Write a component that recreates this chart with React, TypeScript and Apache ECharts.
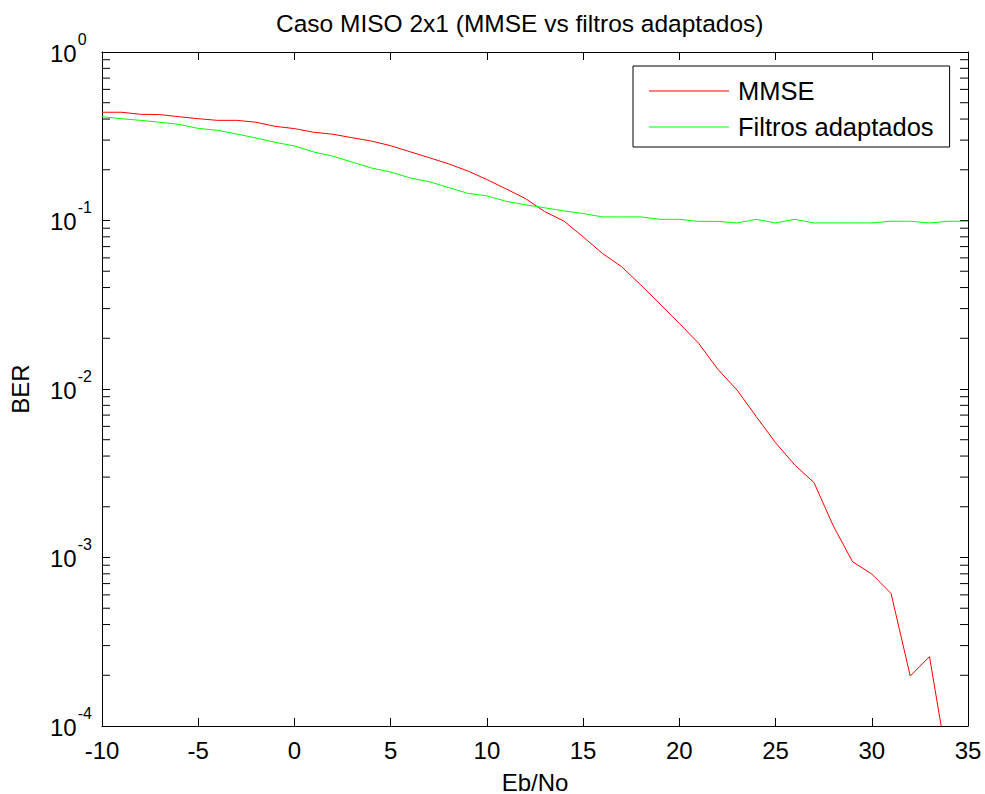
import React, { useEffect, useRef } from "react";
import * as echarts from "echarts";

const X_MIN = -10;
const X_MAX = 35;
const Y_MIN = 1e-4;
const Y_MAX = 1;

const ebNo = [
  -10, -9, -8, -7, -6, -5, -4, -3, -2, -1, 0, 1, 2, 3, 4, 5, 6, 7, 8, 9, 10, 11, 12,
  13, 14, 15, 16, 17, 18, 19, 20, 21, 22, 23, 24, 25, 26, 27, 28, 29, 30, 31, 32, 33, 34, 35,
];

const berMMSE = [
  0.439, 0.439, 0.427, 0.425, 0.413, 0.402, 0.393, 0.393, 0.383, 0.362, 0.351, 0.334,
  0.325, 0.31, 0.296, 0.278, 0.256, 0.236, 0.217, 0.197, 0.175, 0.154, 0.135, 0.113,
  0.0993, 0.08, 0.0638, 0.0532, 0.0414, 0.0319, 0.0245, 0.0187, 0.0131, 0.00986,
  0.00685, 0.0048, 0.00354, 0.00278, 0.00154, 0.000944, 0.000798, 0.000612, 0.000198,
  0.000258, 0.000054, null,
];

const berMatched = [
  0.413, 0.402, 0.393, 0.383, 0.372, 0.352, 0.343, 0.326, 0.309, 0.291, 0.277, 0.255,
  0.241, 0.222, 0.205, 0.194, 0.179, 0.17, 0.157, 0.145, 0.14, 0.13, 0.124, 0.119,
  0.114, 0.11, 0.105, 0.105, 0.105, 0.1016, 0.1016, 0.0988, 0.0988, 0.0967, 0.1016,
  0.0967, 0.1016, 0.0967, 0.0967, 0.0967, 0.0967, 0.099, 0.099, 0.0967, 0.099, 0.099,
];

const seriesNames = ["MMSE", "Filtros adaptados"];
const xTickInterval = 5;

// minor tick values of the log axis (2..9 per decade)
const minorTickValues = [
  2e-4, 3e-4, 4e-4, 5e-4, 6e-4, 7e-4, 8e-4, 9e-4,
  2e-3, 3e-3, 4e-3, 5e-3, 6e-3, 7e-3, 8e-3, 9e-3,
  2e-2, 3e-2, 4e-2, 5e-2, 6e-2, 7e-2, 8e-2, 9e-2,
  0.2, 0.3, 0.4, 0.5, 0.6, 0.7, 0.8, 0.9,
];

const FONT = "Liberation Sans, Arial, sans-serif";

export default function App() {
  const ref = useRef<HTMLDivElement>(null);

  useEffect(() => {
    document.body.style.margin = "0";
    if (!ref.current) return;
    const chart = echarts.init(ref.current, undefined, { renderer: "svg" });

    const yLabelFormatter = (v: number) => {
      const e = Math.round(Math.log10(v));
      return "{b|10}{s|" + e + "}";
    };

    const tickLen = 8;

    chart.setOption({
      animation: false,
      backgroundColor: "#ffffff",
      textStyle: { fontFamily: FONT, color: "#000" },
      title: {
        text: "Caso MISO 2x1 (MMSE vs filtros adaptados)",
        left: 276,
        top: 11,
        padding: 0,
        textStyle: { fontFamily: FONT, fontSize: 24.5, fontWeight: "normal", color: "#000" },
      },
      legend: {
        data: seriesNames,
        orient: "vertical",
        left: 633,
        top: 66,
        padding: [12, 16, 7, 16],
        itemGap: 10,
        itemWidth: 80,
        itemHeight: 1.2,
        icon: "rect",
        borderColor: "#000",
        borderWidth: 1,
        backgroundColor: "#fff",
        textStyle: { fontFamily: FONT, fontSize: 25.5, color: "#000", lineHeight: 26, padding: [0, 0, 0, 4] },
      },
      grid: {
        left: 102,
        right: 17,
        top: 52,
        bottom: 68,
        containLabel: false,
        outerBoundsMode: "none",
      },
      xAxis: [
        {
          type: "value",
          min: X_MIN,
          max: X_MAX,
          interval: xTickInterval,
          position: "bottom",
          name: "Eb/No",
          nameLocation: "middle",
          nameGap: 46,
          nameTextStyle: { fontFamily: FONT, fontSize: 24, lineHeight: 20, color: "#000" },
          axisLine: { show: true, onZero: false, lineStyle: { color: "#000", width: 1 } },
          axisTick: { show: true, inside: true, length: tickLen, lineStyle: { color: "#000" } },
          axisLabel: { fontFamily: FONT, fontSize: 24, color: "#000", margin: 12 },
          splitLine: { show: false },
        },
        {
          type: "value",
          min: X_MIN,
          max: X_MAX,
          interval: xTickInterval,
          position: "top",
          axisLine: { show: true, onZero: false, lineStyle: { color: "#000", width: 1 } },
          axisTick: { show: true, inside: true, length: tickLen, lineStyle: { color: "#000" } },
          axisLabel: { show: false },
          splitLine: { show: false },
        },
      ],
      yAxis: [
        {
          type: "log",
          logBase: 10,
          min: Y_MIN,
          max: Y_MAX,
          position: "left",
          name: "BER",
          nameLocation: "middle",
          nameGap: 70,
          nameTextStyle: { fontFamily: FONT, fontSize: 24, color: "#000" },
          axisLine: { show: true, onZero: false, lineStyle: { color: "#000", width: 1 } },
          axisTick: { show: true, inside: true, length: tickLen, lineStyle: { color: "#000" } },
          axisLabel: {
            formatter: yLabelFormatter,
            align: "left",
            margin: 52,
            rich: {
              b: {
                fontFamily: FONT,
                fontSize: 24,
                lineHeight: 42,
                color: "#000",
                verticalAlign: "top",
                padding: [10, 0, 0, 0],
              },
              s: {
                fontFamily: FONT,
                fontSize: 16,
                lineHeight: 42,
                color: "#000",
                verticalAlign: "top",
                padding: [0, 0, 0, 1],
              },
            },
          },
          splitLine: { show: false },
        },
        {
          type: "log",
          logBase: 10,
          min: Y_MIN,
          max: Y_MAX,
          position: "right",
          axisLine: { show: true, onZero: false, lineStyle: { color: "#000", width: 1 } },
          axisTick: { show: true, inside: true, length: tickLen, lineStyle: { color: "#000" } },
          axisLabel: { show: false },
          splitLine: { show: false },
        },
      ],
      series: [
        {
          name: seriesNames[0],
          type: "line",
          xAxisIndex: 0,
          yAxisIndex: 0,
          symbol: "none",
          clip: true,
          lineStyle: { color: "#ff0000", width: 1 },
          itemStyle: { color: "#ff0000" },
          data: ebNo.map((x, i) => [x, berMMSE[i]]),
        },
        {
          name: seriesNames[1],
          type: "line",
          xAxisIndex: 0,
          yAxisIndex: 0,
          symbol: "none",
          clip: true,
          lineStyle: { color: "#00ff00", width: 1 },
          itemStyle: { color: "#00ff00" },
          data: ebNo.map((x, i) => [x, berMatched[i]]),
        },
        {
          name: "minorTicks",
          type: "custom",
          xAxisIndex: 0,
          yAxisIndex: 0,
          silent: true,
          clip: false,
          data: minorTickValues.map((v) => [X_MIN, v]),
          renderItem: (params: any, api: any) => {
            const v = api.value(1);
            const l = api.coord([X_MIN, v]);
            const r = api.coord([X_MAX, v]);
            return {
              type: "group",
              children: [
                {
                  type: "line",
                  shape: { x1: l[0], y1: l[1], x2: l[0] + tickLen, y2: l[1] },
                  style: { stroke: "#000", lineWidth: 1 },
                },
                {
                  type: "line",
                  shape: { x1: r[0] - tickLen, y1: r[1], x2: r[0], y2: r[1] },
                  style: { stroke: "#000", lineWidth: 1 },
                },
              ],
            };
          },
        },
      ],
    });

    return () => {
      chart.dispose();
    };
  }, []);

  return (
    <div
      ref={ref}
      style={{ position: "absolute", left: 0, top: 0, width: 985, height: 794 }}
    />
  );
}
